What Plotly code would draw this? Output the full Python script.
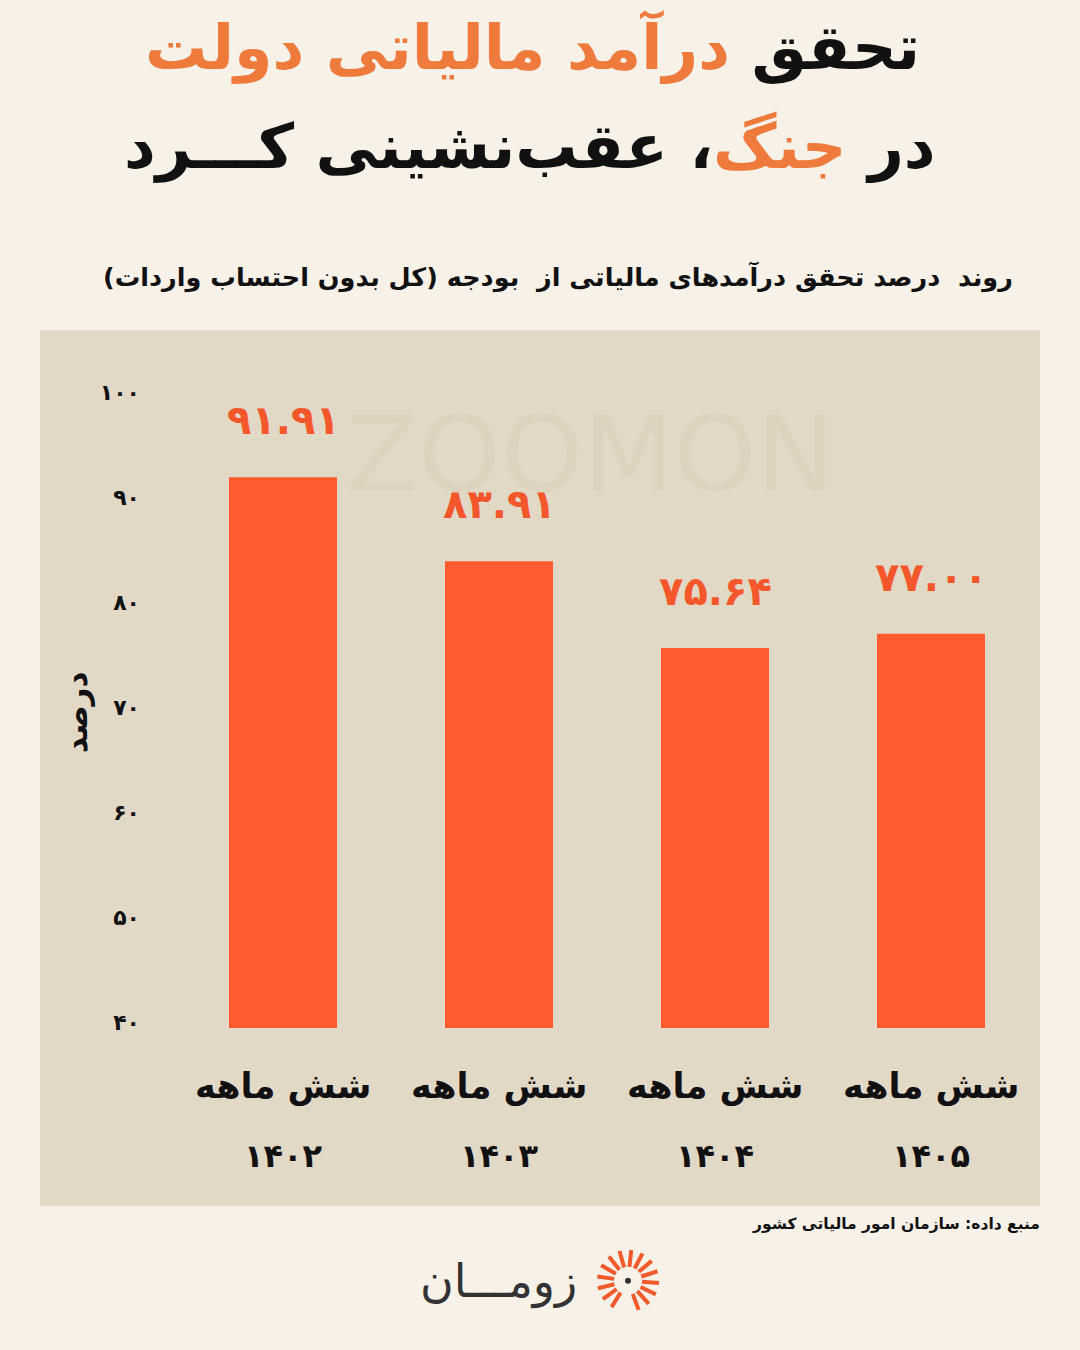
import math
import plotly.graph_objects as go

# ---------------- data ----------------
years = ["۱۴۰۲", "۱۴۰۳", "۱۴۰۴", "۱۴۰۵"]
period_label = "شش ماهه"
values = [91.91, 83.91, 75.64, 77.00]
tick_vals = [40, 50, 60, 70, 80, 90, 100]

title_line1_black = "تحقق"
title_line1_orange = "درآمد مالیاتی دولت"
title_line2_black_a = "در"
title_line2_orange = "جنگ"
title_line2_black_b = "، عقب‌نشینی کـــرد"
subtitle = "روند  درصد تحقق درآمدهای مالیاتی از  بودجه (کل بدون احتساب واردات)"
y_title = "درصد"
source = "منبع داده: سازمان امور مالیاتی کشور"
brand = "زومـــان"
watermark = "ZOOMON"

RLM = "\u200f"
FA = str.maketrans("0123456789", "۰۱۲۳۴۵۶۷۸۹")
def fa(s):
    return str(s).translate(FA)

# ---------------- style ----------------
W, H = 1080, 1350
BG = "#F8F1E8"
BOX = "#E2D8C6"
BAR = "#FF5B2F"
LABEL = "#F4572B"
TITLE_OR = "#EE7A3B"
INK = "#111111"
FONT = "DejaVu Sans"

# plot area in pixels
PL, PR, PT, PB = 175, 1039, 381.5, 1028
ml, mr, mt, mb = PL, W - PR, PT, H - PB
pw, ph = PR - PL, PB - PT
def px2x(px):
    return (px - PL) / pw
def py2y(py):
    return (PB - py) / ph

fig = go.Figure()
fig.add_trace(go.Bar(
    x=years, y=values, marker=dict(color=BAR, line=dict(width=0)),
    width=0.5, hoverinfo="skip",
))

annotations = []
# watermark (drawn first, faint)
annotations.append(dict(
    x=px2x(590), y=py2y(455), xref="paper", yref="paper", text=watermark,
    showarrow=False, xanchor="center", yanchor="middle",
    font=dict(family=FONT, size=105, color="rgba(190,176,150,0.13)"),
))
# value labels
for yr, v in zip(years, values):
    annotations.append(dict(
        x=yr, y=v, xref="x", yref="y", text=fa(f"{v:.2f}"),
        showarrow=False, xanchor="center", yanchor="bottom", yshift=32,
        font=dict(family=FONT, size=40, color=LABEL, weight="bold"),
    ))
# category labels
for yr in years:
    annotations.append(dict(
        x=yr, y=py2y(1086), xref="x", yref="paper", text=period_label,
        showarrow=False, xanchor="center", yanchor="middle",
        font=dict(family=FONT, size=35, color=INK, weight="bold"),
    ))
    annotations.append(dict(
        x=yr, y=py2y(1156), xref="x", yref="paper", text=yr,
        showarrow=False, xanchor="center", yanchor="middle",
        font=dict(family=FONT, size=32, color=INK, weight="bold"),
    ))
# y title
annotations.append(dict(
    x=px2x(76), y=py2y(712), xref="paper", yref="paper", text=y_title,
    showarrow=False, textangle=-90, xanchor="center", yanchor="middle",
    font=dict(family=FONT, size=31, color=INK, weight="bold"),
))
# title (logical RTL order)
annotations.append(dict(
    x=px2x(532), y=py2y(46), xref="paper", yref="paper",
    text=(RLM + f"<span style='color:{INK}'>{title_line1_black}</span> "
          f"<span style='color:{TITLE_OR}'>{title_line1_orange}</span>" + RLM),
    showarrow=False, xanchor="center", yanchor="middle",
    font=dict(family=FONT, size=62, color=INK, weight="bold"),
))
annotations.append(dict(
    x=px2x(530), y=py2y(146), xref="paper", yref="paper",
    text=(RLM + f"<span style='color:{INK}'>{title_line2_black_a}</span> "
          f"<span style='color:{TITLE_OR}'>{title_line2_orange}</span>"
          f"<span style='color:{INK}'>{title_line2_black_b}</span>" + RLM),
    showarrow=False, xanchor="center", yanchor="middle",
    font=dict(family=FONT, size=62, color=INK, weight="bold"),
))
# subtitle
annotations.append(dict(
    x=px2x(1015), y=py2y(276), xref="paper", yref="paper",
    text=RLM + subtitle + RLM,
    showarrow=False, xanchor="right", yanchor="middle",
    font=dict(family=FONT, size=25.5, color=INK, weight="bold"),
))
# source
annotations.append(dict(
    x=px2x(1042), y=py2y(1224), xref="paper", yref="paper",
    text=RLM + source + RLM,
    showarrow=False, xanchor="right", yanchor="middle",
    font=dict(family=FONT, size=15.5, color=INK, weight="bold"),
))
# brand
annotations.append(dict(
    x=px2x(579), y=py2y(1282), xref="paper", yref="paper", text=brand,
    showarrow=False, xanchor="right", yanchor="middle",
    font=dict(family=FONT, size=46, color="#333333"),
))

shapes = [dict(
    type="rect", xref="paper", yref="paper", layer="below",
    x0=px2x(40), x1=px2x(1040), y0=py2y(1206), y1=py2y(330),
    fillcolor=BOX, line=dict(width=0),
)]
# brand sun icon (decorative rays)
cx, cy = 628, 1281
for ang in range(-70, 250, 22):
    a = math.radians(ang)
    shapes.append(dict(
        type="line", xref="paper", yref="paper",
        x0=px2x(cx + 14 * math.cos(a)), y0=py2y(cy - 14 * math.sin(a)),
        x1=px2x(cx + 31 * math.cos(a)), y1=py2y(cy - 31 * math.sin(a)),
        line=dict(color="#F05A2C", width=4),
    ))
shapes.append(dict(
    type="circle", xref="paper", yref="paper",
    x0=px2x(cx - 3), x1=px2x(cx + 3), y0=py2y(cy + 3), y1=py2y(cy - 3),
    fillcolor="#333333", line=dict(width=0),
))

fig.update_layout(
    width=W, height=H,
    paper_bgcolor=BG, plot_bgcolor="rgba(0,0,0,0)",
    margin=dict(l=ml, r=mr, t=mt, b=mb, autoexpand=False),
    showlegend=False,
    bargap=0.5,
    xaxis=dict(showticklabels=False, showgrid=False, zeroline=False,
               showline=False, ticks="", fixedrange=True),
    yaxis=dict(range=[39.43, 101], tickvals=tick_vals,
               ticktext=[fa(v) for v in tick_vals],
               tickfont=dict(family=FONT, size=22, color=INK, weight="bold"),
               ticklabelstandoff=34,
               showgrid=False, zeroline=False, showline=False, ticks=""),
    annotations=annotations,
    shapes=shapes,
)

fig.write_html(
    "out.html",
    config={"displayModeBar": False},
    post_script="document.body.style.margin='0';document.body.style.padding='0';"
                f"document.body.style.background='{BG}';",
)
